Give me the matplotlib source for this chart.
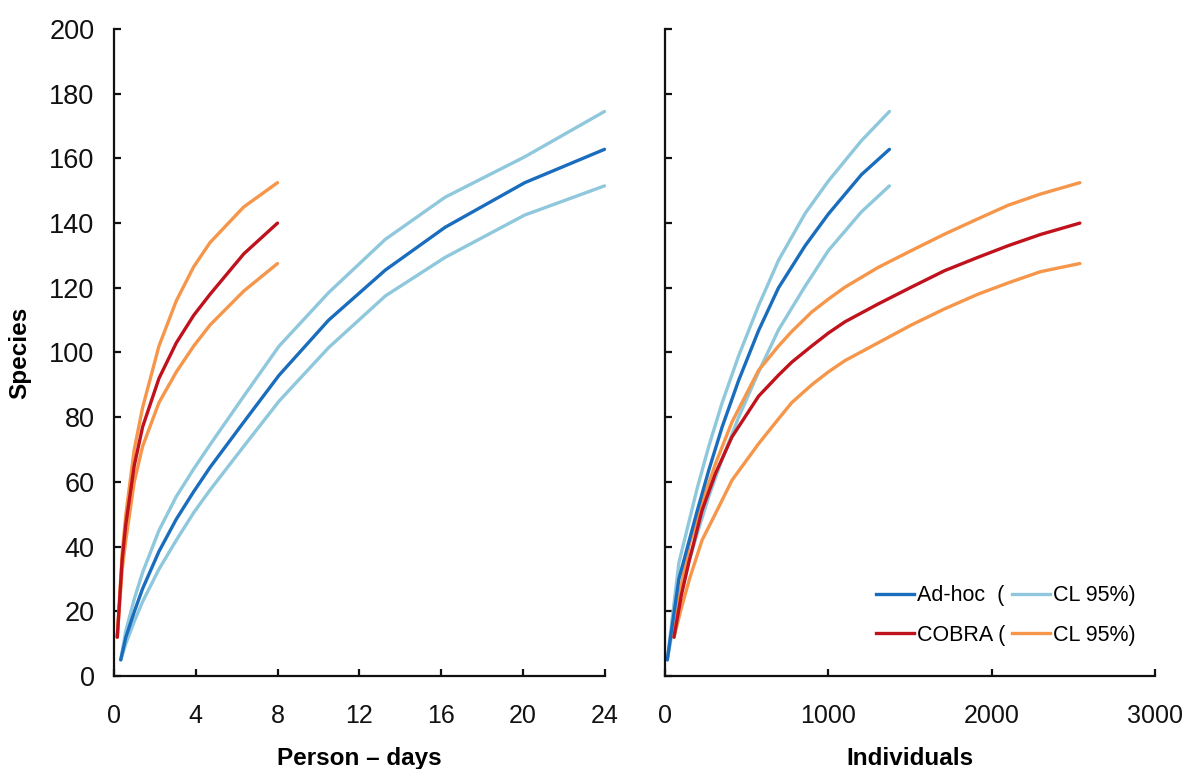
import matplotlib
matplotlib.use("Agg")
import matplotlib.pyplot as plt
from matplotlib.lines import Line2D

plt.rcParams['font.family'] = ['Liberation Sans', 'DejaVu Sans']

# ---------------- data: left panel (person-days) ----------------
adhoc_pd_x = [0.33, 0.58, 1.0, 1.4, 2.2, 3.05, 3.9, 4.7, 6.35, 8.08, 10.5, 13.28, 16.2, 20.1, 24.0]
adhoc_pd_mean = [5, 12, 20, 27, 38.5, 48.5, 57, 64.5, 78.5, 93, 110, 125.5, 138.7, 152.5, 162.8]
adhoc_pd_up = [5, 14, 24, 32, 45, 55.5, 64, 71.5, 86.5, 102, 118.5, 135, 148, 160.5, 174.5]
adhoc_pd_lo = [5, 10, 17, 23, 33, 42, 50.5, 57.5, 71, 85, 101.5, 117.5, 129.4, 142.5, 151.5]

cobra_pd_x = [0.16, 0.4, 0.58, 0.99, 1.4, 2.2, 3.05, 3.9, 4.7, 6.35, 8.0]
cobra_pd_mean = [12, 36, 47, 65, 77, 92, 103, 111.5, 118, 130.5, 140]
cobra_pd_up = [12, 38, 50, 70, 83, 102, 116, 126.5, 134, 145, 152.5]
cobra_pd_lo = [12, 33, 42, 60, 71, 84.5, 94, 102, 108.5, 119, 127.5]

# ---------------- data: right panel (individuals) ----------------
adhoc_ind_x = [14, 85, 197, 268, 350, 451, 573, 695, 858, 1000, 1203, 1374]
adhoc_ind_mean = [5, 30, 51, 63.6, 77, 91.4, 106.8, 120, 133, 142.8, 155, 162.8]
adhoc_ind_up = [5, 35, 58, 71, 84.5, 99, 114.5, 128.5, 143, 153, 165.5, 174.5]
adhoc_ind_lo = [5, 25, 44, 55.5, 67, 80, 94, 107, 120.5, 131.5, 143.5, 151.5]

cobra_ind_x = [55, 100, 150, 227, 309, 410, 573, 695, 776, 898, 1000, 1102, 1305, 1508, 1712, 1915, 2100, 2300, 2540]
cobra_ind_mean = [12, 25, 36, 51.2, 62.6, 73.9, 86.5, 93, 97, 102, 106, 109.5, 115, 120.2, 125.3, 129.4, 133, 136.5, 140]
cobra_ind_up = [12, 28, 41, 53.5, 65.6, 78.5, 94.5, 102, 106.5, 112.5, 116.5, 120.2, 126.3, 131.5, 136.6, 141.3, 145.5, 149, 152.5]
cobra_ind_lo = [12, 21, 30, 42, 50.2, 60.5, 71.8, 79.5, 84.5, 90, 94, 97.5, 103, 108.5, 113.5, 118, 121.5, 125, 127.5]

left_xticks = [0, 4, 8, 12, 16, 20, 24]
right_xticks = [0, 1000, 2000, 3000]
yticks = [0, 20, 40, 60, 80, 100, 120, 140, 160, 180, 200]

C_ADHOC = '#1a6dbd'
C_ADHOC_CL = '#8fc8dc'
C_COBRA = '#c0121c'
C_COBRA_CL = '#f5964a'

W, H = 1188, 769
fig = plt.figure(figsize=(W / 100, H / 100), dpi=100)

y0px, y200px = 676, 29
bottom = (H - y0px) / H
height = (y0px - y200px) / H

axL = fig.add_axes([114 / W, bottom, (604.5 - 114) / W, height])
axR = fig.add_axes([665 / W, bottom, (1155 - 665) / W, height])

lw_cl = 2.4
lw_m = 2.4

def draw(ax, x1, m1, u1, l1, x2, m2, u2, l2):
    for y in (u1, l1):
        ax.plot(x1, y, color=C_ADHOC_CL, lw=lw_cl, solid_capstyle='round',
                solid_joinstyle='round', clip_on=False)
    for y in (u2, l2):
        ax.plot(x2, y, color=C_COBRA_CL, lw=lw_cl, solid_capstyle='round',
                solid_joinstyle='round', clip_on=False)
    ax.plot(x1, m1, color=C_ADHOC, lw=lw_m, solid_capstyle='round',
            solid_joinstyle='round', clip_on=False)
    ax.plot(x2, m2, color=C_COBRA, lw=lw_m, solid_capstyle='round',
            solid_joinstyle='round', clip_on=False)

draw(axL, adhoc_pd_x, adhoc_pd_mean, adhoc_pd_up, adhoc_pd_lo,
     cobra_pd_x, cobra_pd_mean, cobra_pd_up, cobra_pd_lo)
draw(axR, adhoc_ind_x, adhoc_ind_mean, adhoc_ind_up, adhoc_ind_lo,
     cobra_ind_x, cobra_ind_mean, cobra_ind_up, cobra_ind_lo)

for ax in (axL, axR):
    ax.set_ylim(0, 200)
    ax.set_yticks(yticks)
    for s in ('top', 'right'):
        ax.spines[s].set_visible(False)
    for s in ('left', 'bottom'):
        ax.spines[s].set_linewidth(1.6)
        ax.spines[s].set_color('#111111')
    ax.tick_params(direction='in', length=5, width=1.6, color='#111111',
                   labelsize=18, pad=20, labelcolor='#111111')
    ax.patch.set_alpha(0)

axL.set_xlim(0, 24)
axL.set_xticks(left_xticks)
axL.tick_params(axis='y', pad=14, labelsize=19.5)
axR.set_xlim(0, 3000)
axR.set_xticks(right_xticks)
axR.tick_params(axis='y', labelleft=False)

axL.set_ylabel('Species', fontsize=17.5, fontweight='bold', labelpad=13)
axL.set_xlabel('Person \u2013 days', fontsize=17.5, fontweight='bold', labelpad=14)
axR.set_xlabel('Individuals', fontsize=17.5, fontweight='bold', labelpad=14)

# legend
hA = Line2D([], [], color=C_ADHOC, lw=2.4)
hC = Line2D([], [], color=C_COBRA, lw=2.4)
hAc = Line2D([], [], color=C_ADHOC_CL, lw=2.4)
hCc = Line2D([], [], color=C_COBRA_CL, lw=2.4)
leg = axR.legend([hA, hC, hAc, hCc], ['Ad-hoc  (', 'COBRA (', 'CL 95%)', 'CL 95%)'],
                 ncol=2, frameon=False, fontsize=15.5, handlelength=1.75,
                 handletextpad=0.15, columnspacing=0.3, labelspacing=0.85,
                 loc='lower right', bbox_to_anchor=(1.0, 0.017))

fig.savefig('out.png', dpi=100, facecolor='white')
